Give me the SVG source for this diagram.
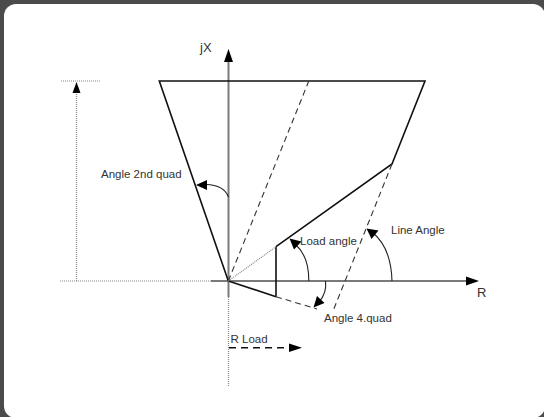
<svg xmlns="http://www.w3.org/2000/svg" width="544" height="417" viewBox="0 0 544 417">
<defs>
<style>
.t{font-family:"Liberation Sans",Arial,sans-serif;font-size:11.5px;fill:#333}
.ax{stroke:#7a7a7a;stroke-width:2;fill:none}
.ln{stroke:#111;stroke-width:1.6;fill:none}
.ds{stroke:#333;stroke-width:1.1;stroke-dasharray:6,4;fill:none}
.dt{stroke:#888;stroke-width:1.2;stroke-dasharray:1,1;fill:none}
.arc{stroke:#222;stroke-width:1.1;fill:none}
</style>
</defs>
<rect x="0" y="0" width="544" height="417" fill="#4b4b4b"/>
<rect x="4" y="4" width="541" height="414" rx="12" fill="#fff"/>

<g id="axes">
<line class="dt" x1="60" y1="281" x2="212" y2="281"/>
<line class="ax" x1="211" y1="281" x2="466" y2="281"/>
<path d="M479,281 L466,276.5 L466,285.5 Z" fill="#000"/>
<line class="dt" x1="228.5" y1="297" x2="228.5" y2="386"/>
<line class="ax" x1="228.5" y1="297" x2="228.5" y2="62"/>
<path d="M228.5,49 L224,62 L233,62 Z" fill="#000"/>
<text id="jx" x="200" y="52" style="font-family:'Liberation Sans',Arial,sans-serif;font-size:13px;fill:#333">jX</text>
<text id="r" x="477" y="297" style="font-family:'Liberation Sans',Arial,sans-serif;font-size:13px;fill:#333">R</text>
</g>

<g id="reach">
<line class="dt" x1="61" y1="81" x2="100" y2="81"/>
<line class="dt" x1="76.5" y1="281" x2="76.5" y2="92"/>
<path d="M76.5,82 L72.5,93 L80.5,93 Z" fill="#000"/>
</g>

<g id="characteristic">
<polyline class="ln" points="228.3,281 159.3,81 425,81 392,164 276,246.7"/>
<line class="ln" x1="276" y1="246.7" x2="276" y2="296.7"/>
<line class="ln" x1="228.3" y1="281" x2="276" y2="296.7"/>
<line class="ds" x1="276" y1="296.7" x2="317" y2="309"/>
<line class="ds" x1="228.3" y1="281" x2="308.8" y2="81"/>
<line class="ds" x1="392" y1="164" x2="333" y2="311"/>
<line class="dt" x1="228.3" y1="281" x2="276" y2="246.7"/>
</g>

<g id="angle2nd">
<path class="arc" d="M228.5,197 Q224,185 206,184.5"/>
<path d="M196,185 L207,180 L207,190 Z" fill="#000"/>
<text class="t" x="101" y="177.5">Angle 2nd quad</text>
</g>

<g id="loadangle">
<path class="arc" d="M308.8,281 Q309,256 295,244"/>
<path d="M289.5,238.5 L301.5,241.5 L294,249.5 Z" fill="#000"/>
<text class="t" x="300" y="245">Load angle</text>
</g>

<g id="lineangle">
<path class="arc" d="M392,281 Q391,247 372,232"/>
<path d="M366.5,228.5 L378.5,230.5 L371.5,239 Z" fill="#000"/>
<text class="t" x="391" y="233.5">Line Angle</text>
</g>

<g id="angle4">
<path class="arc" d="M325.5,281 Q327,293 319,302"/>
<path d="M313.5,307.5 L317,296 L324.5,303 Z" fill="#000"/>
<text class="t" x="324" y="322">Angle 4.quad</text>
</g>

<g id="rload">
<text class="t" x="230.5" y="342.5">R Load</text>
<line x1="229" y1="347.7" x2="289" y2="347.7" stroke="#111" stroke-width="1.6" stroke-dasharray="7,5"/>
<path d="M302,347.7 L289,343.5 L289,352 Z" fill="#000"/>
</g>
</svg>
